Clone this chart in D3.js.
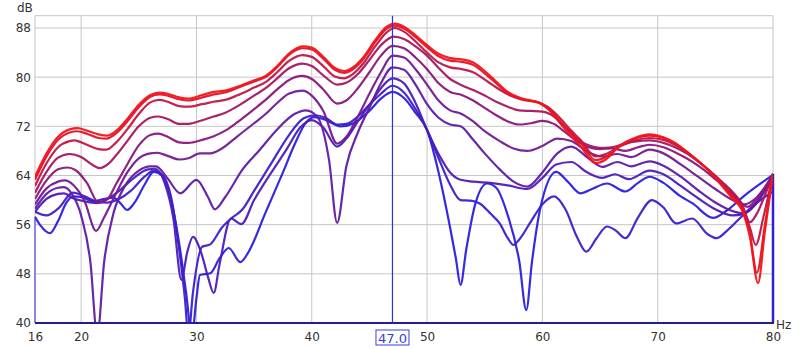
<!DOCTYPE html>
<html><head><meta charset="utf-8">
<script src="https://cdn.jsdelivr.net/npm/d3@7"></script>
<style>html,body{margin:0;padding:0;background:#fff;}svg{display:block;}</style>
</head><body>
<svg id="chart" width="800" height="348"></svg>
<script>
const xTicks = [16,20,30,40,50,60,70,80];
const yTicks = [40,48,56,64,72,80,88];
const cursorHz = 47.0;

const curve0 = [[16,63.8],[17,67.6],[18,70.3],[19,71.5],[19.7,71.7],[20.5,71.3],[21.5,70.7],[22.3,70.5],[23,71.2],[24,73.2],[25,75.5],[26,77.1],[26.8,77.5],[27.5,77.3],[28.5,76.7],[29.3,76.5],[30.5,77.1],[31.5,77.6],[32.5,77.8],[33.5,78.4],[35,79.5],[36,80.2],[37,81.8],[38,83.8],[39.2,85.0],[40,84.8],[41,83.3],[42,81.5],[42.8,81.0],[43.5,81.5],[44.5,83.3],[45.5,86.0],[46.5,88.2],[47.2,88.7],[48,88.2],[49,86.8],[50,85.2],[51,83.8],[52,83.1],[53,82.9],[54,82.4],[55,81.0],[55.7,79.8],[57,77.6],[58.1,76.6],[59.8,75.7],[60.5,74.8],[61.5,72.6],[62.5,70.4],[63.3,68.8],[64.6,66.0],[65.5,66.6],[66.7,68.8],[68,70.1],[69.3,70.7],[70.5,70.2],[71.5,69.3],[72.5,67.9],[73.5,66.4],[74.5,64.6],[75.5,62.5],[76.5,60.2],[77.3,58.4],[78,54],[78.7,46.5],[79.3,55],[80,64.3]];
const curve1 = [[16,63.3],[17,67.1],[18,69.8],[19,71.0],[19.7,71.2],[20.5,70.8],[21.5,70.1],[22.2,70.0],[23,70.8],[24,72.8],[25,75.1],[26,76.8],[26.8,77.2],[27.5,77.0],[28.5,76.4],[29.3,76.2],[30.5,76.7],[31.5,77.2],[32.5,77.5],[33.5,78.2],[35,79.3],[36,80.0],[37,81.6],[38,83.6],[39.2,84.7],[40,84.5],[41,83.0],[42,81.2],[42.8,80.7],[43.5,81.2],[44.5,83.0],[45.5,85.7],[46.5,87.9],[47.2,88.4],[48,87.9],[49,86.5],[50,84.9],[51,83.4],[52,82.7],[53,82.5],[54,82.0],[55,80.6],[55.7,79.5],[57,77.4],[58.1,76.5],[59.8,75.8],[60.5,75.0],[61.5,72.9],[62.5,70.9],[63.3,69.4],[64.6,66.5],[65.5,67.0],[66.7,68.8],[68,70.0],[69.3,70.5],[70.5,70.1],[71.5,69.2],[72.5,67.9],[73.5,66.4],[74.5,64.7],[75.5,62.7],[76.5,60.5],[77.3,58.6],[78,54.5],[78.6,48.2],[79.3,56],[80,64.3]];
const curve2 = [[16,62.3],[17,66.0],[18,68.6],[19,69.6],[19.4,69.7],[20.5,69.0],[21.5,68.3],[22.2,68.2],[23,69.3],[24,71.5],[25,74.0],[26,75.9],[26.8,76.3],[27.5,76.0],[28.5,75.3],[29.3,75.2],[30.5,75.6],[31.5,76.0],[32.5,76.3],[33.5,77.0],[35,78.3],[36,79.2],[37,80.8],[38,82.6],[39.2,83.6],[40,83.3],[41,81.8],[42,80.1],[42.8,79.8],[43.5,80.4],[44.5,82.3],[45.5,85.0],[46.5,87.3],[47.2,88.0],[48,87.4],[49,85.8],[50,84.0],[51,82.4],[52,81.6],[53,81.3],[54,80.8],[55,79.6],[55.7,78.7],[57,77.2],[58.1,76.4],[59.8,75.8],[60.5,75.1],[61.5,73.4],[62.5,71.3],[63.3,69.8],[64.6,67.1],[65.5,67.5],[66.7,68.7],[68,69.7],[69.3,70.1],[70.5,69.8],[71.5,69.0],[72.5,67.8],[73.5,66.3],[74.5,64.7],[75.5,62.8],[76.5,60.8],[77.3,59.0],[78,55.5],[78.5,52.7],[79.2,57.5],[80,64.3]];
const curve3 = [[16,61.2],[17,64.6],[18,66.9],[19,67.5],[20,67.0],[21,65.7],[21.6,65.2],[22.3,65.8],[23,67.2],[24,69.6],[25,72.0],[26,73.4],[26.7,73.6],[27.5,73.2],[28.5,72.4],[29.3,72.4],[30.5,73.0],[31.5,73.6],[32.5,74.2],[33.5,75.2],[35,77.0],[36,78.2],[37,79.8],[38,81.4],[39.2,82.2],[40,81.8],[41,80.3],[42.2,78.8],[43,79.1],[44,80.5],[45,82.8],[46,85.2],[47.1,86.6],[48,86.2],[49,85.0],[50,83.5],[51,81.5],[52,79.7],[53,78.7],[54,77.9],[55,77.0],[56,76.0],[57,75.2],[58,74.6],[59,74.5],[60,74.4],[61,73.6],[62,71.8],[63,70.0],[64,68.9],[65,68.5],[66,68.6],[67,69.1],[68,69.5],[69.3,69.7],[70.5,69.3],[71.5,68.6],[72.5,67.6],[73.5,66.3],[74.5,64.8],[75.5,63.1],[76.5,61.3],[77.3,59.4],[78,56.4],[78.6,57.8],[79.3,60.8],[80,64.2]];
const curve4 = [[16,60.2],[17,63.2],[18,65.0],[18.8,65.3],[19.5,64.9],[20.5,62.8],[21.5,59.6],[22.3,60.2],[23,62.5],[24,65.8],[25,68.9],[26,70.6],[26.7,70.8],[27.5,70.3],[28.5,69.4],[29.3,69.3],[30.5,69.8],[31.5,70.4],[32.5,71.3],[33.5,72.6],[35,74.8],[36,76.3],[37,78.0],[38,79.5],[39.2,80.2],[40,79.7],[41,78.0],[42.2,75.7],[43,76.2],[44,78.2],[45,80.8],[46,83.5],[47,85.1],[48,84.7],[49,83.2],[50,81.3],[51,79.0],[52,77.6],[53,77.1],[54,76.2],[55,75.0],[56,73.8],[57,72.8],[58,72.3],[59,72.5],[60,72.9],[61,72.4],[62,71.0],[63,69.6],[64,68.6],[65,68.3],[66,68.4],[67.2,68.0],[68.3,68.6],[69.3,69.0],[70.5,68.6],[71.5,67.8],[72.5,66.8],[73.5,65.6],[74.5,64.2],[75.5,62.6],[76.5,61.0],[77.8,58.9],[78.6,60.2],[80,64.2]];
const curve5 = [[16,59.3],[17,61.9],[18,63.0],[18.6,63.2],[19.3,62.5],[20.3,59.8],[21.3,55.0],[22,57.2],[23,61.0],[24,64.5],[25,66.8],[26,67.6],[26.6,67.7],[27.5,67.2],[28.5,66.6],[29.3,66.8],[30.3,67.6],[31.2,67.6],[32.2,68.4],[33.5,70.3],[35,72.5],[36,74.0],[37,75.8],[38,77.3],[39.2,77.8],[40,77.0],[41,74.5],[42.2,69.2],[43,70.3],[44,73.6],[45,77.3],[46,80.8],[47,83.5],[48,83.2],[49,81.3],[50,78.8],[51,76.2],[52,74.6],[52.9,74.1],[54,72.8],[55,71.2],[56.3,69.6],[57.5,68.4],[58.7,68.0],[60,68.8],[61.3,70.0],[62.5,69.6],[64,67.8],[65.2,67.1],[66.5,67.5],[67.7,67.0],[69.3,68.2],[70.5,67.6],[72,65.8],[73.5,63.8],[75,61.8],[76.5,60.0],[77.5,59.3],[78.5,60.3],[80,64.1]];
const curve6 = [[16,58.6],[17,61.0],[18,62.0],[18.5,62.1],[19.2,61.0],[20,57.5],[20.8,50],[21.4,38],[22,50],[22.8,57.8],[23.8,62.3],[25,64.8],[26,65.5],[26.5,65.5],[27.5,63.5],[28.6,61.1],[30,63.3],[31,60.5],[31.6,58.5],[32.5,60.5],[34,65.0],[35.5,68.2],[37,71.5],[38.5,74.0],[39.5,74.6],[40.5,73.5],[41.5,66.5],[42.2,56.3],[43,65.5],[44,71.0],[45,75.0],[46,79.0],[47,81.6],[48,81.2],[49,78.8],[50,75.6],[51,73.4],[52,72.3],[52.9,72.0],[54,69.8],[55,67.6],[56.3,65.0],[57.5,63.0],[58.7,62.2],[60,64.5],[61.3,67.6],[62.5,68.7],[64,66.8],[65.2,65.4],[66.5,66.2],[67.7,65.5],[69.3,66.3],[70.5,65.6],[72,63.8],[73.5,61.6],[75,59.6],[76.5,58.2],[77.5,57.8],[78.5,59.3],[80,64.0]];
const curve7 = [[16,58.1],[17,60.2],[18,61.0],[18.5,61.1],[19.3,60.3],[20.3,59.8],[21.3,59.5],[22.3,60.2],[23.3,61.5],[24.5,63.5],[25.8,65.0],[26.4,65.1],[27.2,63.0],[28,57.0],[28.7,47.0],[29.2,51.5],[29.7,54.0],[30.4,51.5],[31,47.5],[31.5,44.9],[32,49.5],[33,57.0],[33.9,56.1],[35,60.0],[36.5,64.5],[37.8,68.2],[39,71.8],[40,73.0],[41,71.8],[42.2,68.7],[43,70.0],[44,72.8],[45,75.5],[46,78.2],[47,79.8],[48,79.0],[49,75.8],[50,71.4],[51,67.5],[52,64.5],[52.9,63.3],[54,63.0],[55.5,62.8],[57,62.4],[58.7,61.8],[60,63.6],[61.2,65.8],[62.5,66.2],[63.8,64.6],[65.2,63.6],[66.3,64.2],[67.5,63.4],[69.3,64.8],[70.5,64.2],[72,62.3],[73.5,60.3],[75,58.5],[76.5,57.5],[77.5,57.8],[78.5,59.5],[80,64.0]];
const curve8 = [[16,58.1],[17,57.5],[18,58.6],[19.3,61.2],[20.3,60.6],[21.3,59.8],[22.3,59.6],[23.3,60.2],[24.3,61.5],[25.5,63.8],[26.3,64.8],[27,64.2],[27.8,60.5],[28.5,52],[29,44],[29.3,38],[29.7,45],[30.5,52.4],[31.2,52.8],[32.2,55.5],[33,57.0],[34,58.5],[35,61.5],[36.5,66],[38,70.5],[39.3,73.3],[40.3,73.8],[41.2,73.4],[42.2,72.3],[43,72.4],[44,73.6],[45,75.5],[46,77.3],[47,78.6],[48,77.5],[49,74.8],[50,71.4],[51,66.8],[52,62.5],[52.9,60.0],[53.8,59.9],[54.6,59.4],[55.5,57.8],[56.3,56.2],[57,53.8],[57.5,52.7],[58,53.6],[59,56.5],[60,59.3],[61,60.6],[62,58.5],[63,54.0],[63.8,51.6],[64.7,53.8],[65.6,55.7],[66.4,55.0],[67.2,53.8],[68.3,57.2],[69.5,60.0],[70.5,58.8],[71.6,56.2],[73,57.0],[74.3,54.5],[75.1,53.8],[76,55.0],[77,56.8],[78,58.6],[79,60.1],[80,61.4]];
const curve9 = [[16,57.3],[16.5,55.8],[17.3,54.6],[18,56.6],[18.7,59.5],[19.3,60.6],[20,60.5],[21,59.8],[22,60.2],[22.8,60.4],[23.4,59.5],[24,58.4],[24.6,59.5],[25.5,62.5],[26.3,64.6],[27,64.0],[27.8,60.0],[28.5,53],[29.1,45],[29.6,38],[30,44],[30.3,47.8],[31.2,48.1],[32,50.5],[32.8,52.2],[33.8,49.9],[34.5,51.5],[36,58.0],[37.5,64.5],[38.5,69.0],[39.5,72.6],[40.2,73.5],[41,73.2],[42,72.3],[42.5,72.0],[43.5,72.4],[45,74.5],[46,76.5],[47,77.6],[48,76.6],[49,74.2],[50,71.4],[51,64.5],[52,55.5],[52.5,50.5],[52.9,46.2],[53.4,52],[54.2,59.5],[55.2,62.7],[56,62.0],[57,57.5],[58,50],[58.6,42.1],[59.1,50],[59.8,58.5],[61.2,64.6],[62.2,63.0],[63.3,61.1],[64.3,61.8],[65.6,62.7],[67.2,61.4],[68.3,62.8],[69.3,63.8],[70.5,62.8],[72,60.6],[73,59.5],[74.8,57.1],[76,58.3],[77.5,60.7],[79,62.8],[80,64.1]];

const curves = [curve0,curve1,curve2,curve3,curve4,curve5,curve6,curve7,curve8,curve9];

const svg = d3.select("#chart");
const L = 35, R = 773, T = 15.7, B = 323;
const x = d3.scaleLinear().domain([16,80]).range([L,R]);
const y = d3.scaleLinear().domain([40,90]).range([B,T]);
const font = "'DejaVu Sans', sans-serif";

// grid
const g = svg.append("g");
g.selectAll("line.vg").data(xTicks.filter(d=>d>16 && d<80)).enter().append("line")
  .attr("x1",d=>x(d)).attr("x2",d=>x(d)).attr("y1",T).attr("y2",B)
  .attr("stroke","#c6c6c6").attr("stroke-width",1);
g.selectAll("line.hg").data(yTicks.filter(d=>d>40)).enter().append("line")
  .attr("x1",L).attr("x2",R).attr("y1",d=>y(d)).attr("y2",d=>y(d))
  .attr("stroke","#c6c6c6").attr("stroke-width",1);
g.append("line").attr("x1",L).attr("x2",R).attr("y1",T).attr("y2",T).attr("stroke","#c6c6c6");
g.append("line").attr("x1",L).attr("x2",L).attr("y1",T).attr("y2",B).attr("stroke","#c6c6c6");
g.append("line").attr("x1",R).attr("x2",R).attr("y1",T).attr("y2",B).attr("stroke","#c6c6c6");

const yAxis = d3.axisLeft(y).tickValues(yTicks).tickSize(0).tickPadding(4).tickFormat(d3.format("d"));
const ya = svg.append("g").attr("transform",`translate(${L},0)`).call(yAxis);
ya.select(".domain").remove();
ya.selectAll("text").attr("font-family",font).attr("font-size",12).attr("fill","#333");
const xAxis = d3.axisBottom(x).tickValues(xTicks).tickSize(0).tickPadding(9).tickFormat(d3.format("d"));
const xa = svg.append("g").attr("transform",`translate(0,${B})`).call(xAxis);
xa.select(".domain").remove();
xa.selectAll("text").attr("font-family",font).attr("font-size",12).attr("fill","#333");
svg.append("text").attr("x",17).attr("y",12).text("dB").attr("font-family",font).attr("font-size",12).attr("fill","#333");
svg.append("text").attr("x",776).attr("y",329).text("Hz").attr("font-family",font).attr("font-size",12).attr("fill","#333");

svg.append("clipPath").attr("id","clip").append("rect").attr("x",L).attr("y",T-2).attr("width",R-L).attr("height",B-T+2);

const color = d3.scaleLinear().domain([0,1,4.5,9]).range(["#f41418","#e0142a","#7c1888","#2a1ee0"]).interpolate(d3.interpolateRgb);
const line = d3.line().x(d=>x(d[0])).y(d=>y(d[1])).curve(d3.curveMonotoneX);

const blue = curves[9];
svg.append("line").attr("x1",L).attr("x2",L).attr("y1",y(blue[0][1])).attr("y2",B).attr("stroke","#8c84e6").attr("stroke-width",2);
svg.append("line").attr("x1",R).attr("x2",R).attr("y1",y(curve0[curve0.length-1][1])).attr("y2",B).attr("stroke","#2a22d8").attr("stroke-width",2.5);

const cg = svg.append("g").attr("clip-path","url(#clip)");
cg.selectAll("path.c").data(curves.map((c,i)=>({c,i})).reverse()).enter().append("path")
  .attr("d",d=>line(d.c)).attr("fill","none").attr("stroke",d=>color(d.i))
  .attr("stroke-width",2.2).attr("stroke-linejoin","round").attr("opacity",0.95);

svg.append("line").attr("x1",L).attr("x2",R+1).attr("y1",B).attr("y2",B).attr("stroke","#261c8c").attr("stroke-width",2);

const cx = x(cursorHz);
svg.append("line").attr("x1",cx).attr("x2",cx).attr("y1",T).attr("y2",B).attr("stroke","#3030e0").attr("stroke-width",1.2);
svg.append("rect").attr("x",cx-16.5).attr("y",330).attr("width",33).attr("height",15).attr("fill","#fff").attr("stroke","#3a40e0").attr("stroke-width",1);
svg.append("text").attr("x",cx).attr("y",342.5).attr("text-anchor","middle").text(cursorHz.toFixed(1))
  .attr("font-family",font).attr("font-size",13).attr("fill","#3a40e0");
</script>
</body></html>
